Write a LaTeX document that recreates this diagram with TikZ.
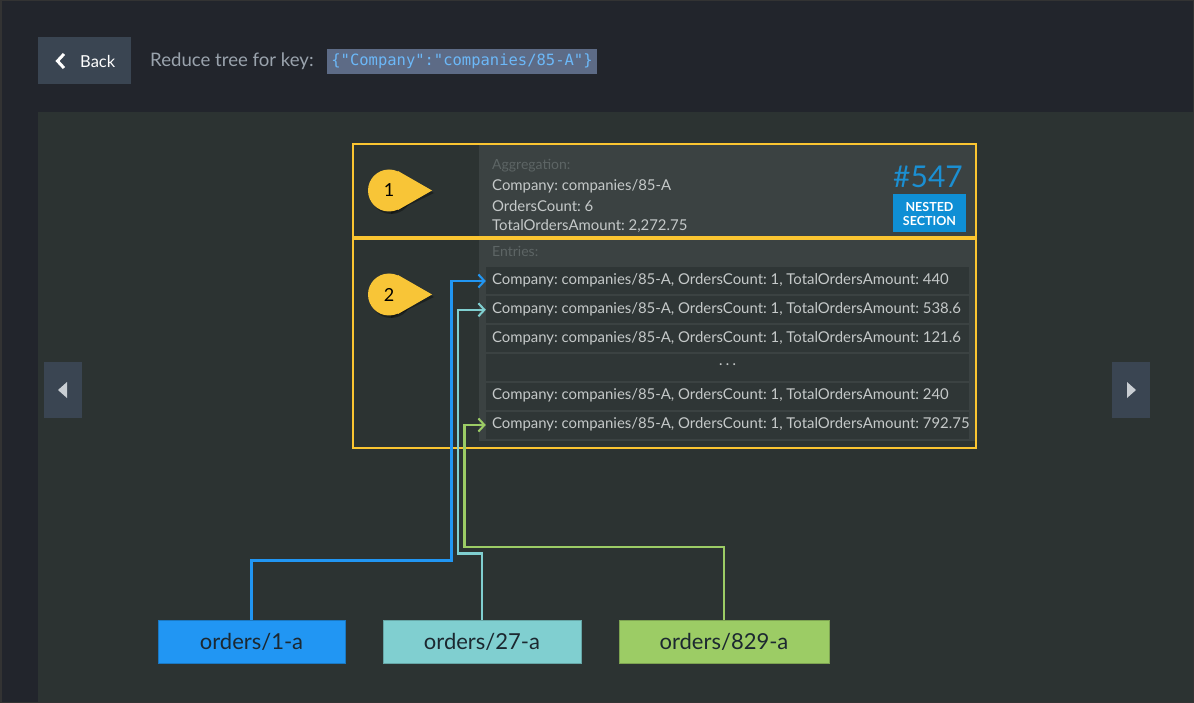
\documentclass[tikz,border=0pt]{standalone}
\usepackage{fontspec}
\setmainfont{Lato}
\newfontfamily\codefont{DejaVu Sans Mono}
\usetikzlibrary{arrows.meta,calc}
\frenchspacing
\definecolor{topbg}{HTML}{22252C}
\definecolor{panelbg}{HTML}{2C3332}
\definecolor{btnbg}{HTML}{3A4552}
\definecolor{codebg}{HTML}{5D6B86}
\definecolor{codefg}{HTML}{6CB8F8}
\definecolor{titlefg}{HTML}{9AA3AD}
\definecolor{innerbg}{HTML}{3B4242}
\definecolor{rowbg}{HTML}{2F3636}
\definecolor{lightfg}{HTML}{C5C9C9}
\definecolor{dimfg}{HTML}{5D6565}
\definecolor{yel}{HTML}{FBC531}
\definecolor{calloutc}{HTML}{F8C537}
\definecolor{numblue}{HTML}{1B8FD2}
\definecolor{nestbg}{HTML}{0F8FD5}
\definecolor{cblue}{HTML}{2196F3}
\definecolor{cteal}{HTML}{80CFD0}
\definecolor{cgreen}{HTML}{9CCC65}
\definecolor{boxfg}{HTML}{1C2830}
\definecolor{navtri}{HTML}{C9CED3}
\tikzset{
  rowbox/.style={fill=rowbg, minimum width=483pt, minimum height=27pt, inner sep=0pt},
  rowtext/.style={anchor=west, inner sep=0pt, text=lightfg, font=\fontsize{14.9}{16}\selectfont},
  aggtext/.style={anchor=west, inner sep=0pt, text=lightfg, font=\fontsize{14.9}{16}\selectfont},
  dimtext/.style={anchor=west, inner sep=0pt, text=dimfg, font=\fontsize{14}{16}\selectfont},
  orderbox/.style={minimum height=43pt, inner sep=0pt, text=boxfg, font=\fontsize{22}{24}\selectfont},
  conn/.style={line width=2.2pt, -{Straight Barb[length=6pt,width=13pt,line width=2pt]}},
  yelbox/.style={draw=yel, line width=2pt},
  callout/.style={circle, fill=calloutc, minimum size=42pt, inner sep=0pt, text=black, font=\fontsize{18}{20}\selectfont},
  navbtn/.style={fill=btnbg, minimum width=38pt, minimum height=56pt, inner sep=0pt}
}
\begin{document}
\begin{tikzpicture}[x=1pt,y=-1pt]
\useasboundingbox (0,0) rectangle (1194,703);
\fill[topbg] (0,0) rectangle (1194,703);
\fill[panelbg] (38,112) rectangle (1194,703);

% header
\node[fill=btnbg, minimum width=93pt, minimum height=47pt, inner sep=0pt] (back) at (84.5,60.5) {};
\draw[white, line width=3pt] (64,54) -- (57.5,61) -- (64,68);
\node[anchor=west, inner sep=0pt, text=white, font=\fontsize{16.5}{18}\selectfont] (backlbl) at (80,61.5) {Back};
\node[anchor=west, inner sep=0pt, text=titlefg, font=\fontsize{18.6}{20}\selectfont] (title) at (150,61.5) {Reduce tree for key:};
\node[fill=codebg, minimum width=270pt, minimum height=25pt, inner sep=0pt, text=codefg, font=\codefont\fontsize{15.5}{18}\selectfont] (key) at (462,61.5) {\{"Company":"companies/85-A"\}};

% nav buttons
\node[navbtn] (prev) at (63,389.5) {};
\fill[navtri] (58,390) -- (67,382) -- (67,398) -- cycle;
\node[navbtn] (next) at (1130.5,389.5) {};
\fill[navtri] (1136,390) -- (1127,382) -- (1127,398) -- cycle;

% inner panel
\fill[innerbg] (479,144) rectangle (975,441);
\node[dimtext] (agg) at (492,166) {Aggregation:};
\node[aggtext] (a1) at (492,186) {Company: companies/85-A};
\node[aggtext] (a2) at (492,206) {OrdersCount: 6};
\node[aggtext] (a3) at (492,226) {TotalOrdersAmount: 2,272.75};
\node[anchor=east, inner sep=0pt, text=numblue, font=\fontsize{30}{32}\selectfont] (num) at (963,176.5) {\#547};
\node[fill=nestbg, minimum width=73pt, minimum height=38pt, inner sep=0pt, align=center, text=white,
  font=\bfseries\fontsize{12.5}{14}\selectfont] (nest) at (929.5,213.5) {NESTED\\SECTION};

\node[dimtext] (entries) at (492,251) {Entries:};
\node[rowbox] (r1) at (727.5,281) {};
\node[rowbox] (r2) at (727.5,309.8) {};
\node[rowbox] (r3) at (727.5,338.6) {};
\node[rowbox] (r4) at (727.5,367.4) {};
\node[rowbox] (r5) at (727.5,396.2) {};
\node[rowbox] (r6) at (727.5,425) {};
\node[rowtext] (t1) at ([xshift=6pt,yshift=0.5pt]r1.west) {Company: companies/85-A, OrdersCount: 1, TotalOrdersAmount: 440};
\node[rowtext] (t2) at ([xshift=6pt,yshift=0.5pt]r2.west) {Company: companies/85-A, OrdersCount: 1, TotalOrdersAmount: 538.6};
\node[rowtext] (t3) at ([xshift=6pt,yshift=0.5pt]r3.west) {Company: companies/85-A, OrdersCount: 1, TotalOrdersAmount: 121.6};
\node[rowtext, anchor=center, font=\fontsize{13}{14}\selectfont] (t4) at ([yshift=1pt]r4.center) {· · ·};
\node[rowtext] (t5) at ([xshift=6pt,yshift=0.5pt]r5.west) {Company: companies/85-A, OrdersCount: 1, TotalOrdersAmount: 240};
\node[rowtext] (t6) at ([xshift=6pt,yshift=0.5pt]r6.west) {Company: companies/85-A, OrdersCount: 1, TotalOrdersAmount: 792.75};

% yellow boxes
\draw[yelbox] (353,144) rectangle (976,237);
\draw[yelbox] (353,239) rectangle (976,447.5);

% callouts
\fill[black, opacity=0.35] (434,193) -- (391,172) -- (391,214) -- cycle;
\fill[black, opacity=0.35] (391,193) circle[radius=21];
\fill[calloutc] (432,190.5) -- (398,171) -- (398,210) -- cycle;
\node[callout] (c1) at (389,190.5) {1};
\fill[black, opacity=0.35] (434,297) -- (391,276) -- (391,318) -- cycle;
\fill[black, opacity=0.35] (391,297) circle[radius=21];
\fill[calloutc] (432,294.5) -- (398,275) -- (398,314) -- cycle;
\node[callout] (c2) at (389,294.5) {2};

% order boxes
\node[orderbox, fill=cblue, draw=cblue!80!black, minimum width=187pt] (o1) at (251.5,641.5) {orders/1-a};
\node[orderbox, fill=cteal, draw=cteal!80!black, minimum width=198pt] (o2) at (482,641.5) {orders/27-a};
\node[orderbox, fill=cgreen, draw=cgreen!80!black, minimum width=210pt] (o3) at (724,641.5) {orders/829-a};

% connectors
\draw[conn, cblue] (o1.north) |- (451.5,560.5) |- (r1.west);
\draw[conn, cteal] (o2.north) |- (458,553.5) |- (r2.west);
\draw[conn, cgreen] (o3.north) |- (464.5,547) |- (r6.west);

% outer border
\draw[black!80, line width=1.5pt] (0.75,0.75) rectangle (1193.25,702.25);
\end{tikzpicture}
\end{document}
